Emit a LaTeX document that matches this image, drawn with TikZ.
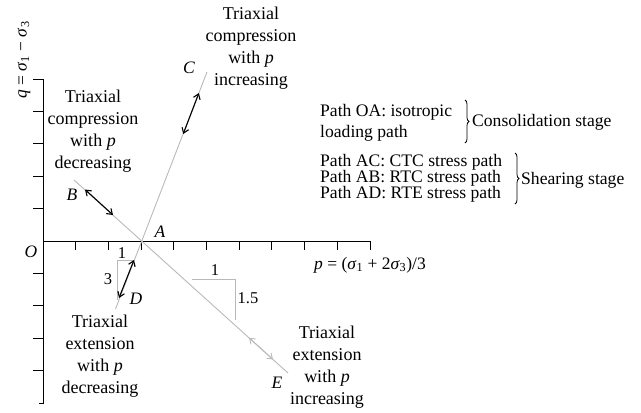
\documentclass[tikz,border=0pt]{standalone}
\usepackage{fontspec}
\setmainfont{Liberation Serif}
\usetikzlibrary{arrows.meta,decorations.pathreplacing}
\definecolor{lgray}{RGB}{185,185,185}
\begin{document}
\begin{tikzpicture}[x=1pt,y=-1pt,
  lbl/.style={font=\fontsize{17.5}{21}\selectfont\itshape, inner sep=0pt},
  num/.style={font=\fontsize{16.5}{20}\selectfont, inner sep=0pt},
  txt/.style={font=\fontsize{18}{22}\selectfont, align=center, inner sep=0pt},
  ptxt/.style={font=\fontsize{17.6}{20}\selectfont, inner sep=0pt, anchor=base west},
  axis/.style={line width=0.9pt, black},
  path/.style={line width=0.9pt, lgray},
  arr/.style={line width=1.1pt, black, {Straight Barb[length=5pt,width=7pt]}-{Straight Barb[length=5pt,width=7pt]}},
  garr/.style={line width=0.9pt, lgray, {Straight Barb[length=5pt,width=7pt]}-{Straight Barb[length=5pt,width=7pt]}},
  brc/.style={decorate, decoration={brace, amplitude=4pt}, line width=0.8pt}
]
\useasboundingbox (0,0) rectangle (641,413);
% key points
\coordinate (O) at (43,241);
\coordinate (A) at (142,241);
\coordinate (B) at (74,180);
\coordinate (C) at (207,72);
\coordinate (D) at (115.5,309);
\coordinate (E) at (288,373);
\coordinate (ytop) at (43,79);
\coordinate (ybot) at (43,403);
\coordinate (xend) at (370,241);
% axes
\draw[axis] (33,79) -- (ytop) -- (ybot) -- (39,403);
\draw[axis] (O) -- (xend);
\foreach \k in {1,2,3,4,6,7,8,9} \draw[axis] (33,{79+32.4*\k}) -- (43,{79+32.4*\k});
\foreach \k in {1,...,10} \draw[axis] ({43+32.7*\k},241) -- ({43+32.7*\k},250);
% stress paths
\draw[path] (D) -- (C);
\draw[path] (B) -- (E);
% slope triangles
\draw[path] (134,260) -- (117,260) -- (117,300);
\draw[path] (192,279) -- (235,279) -- (235,320);
% arrows
\coordinate (c1) at (183.2,134); \coordinate (c2) at (198.9,93);
\coordinate (d1) at (134,260); \coordinate (d2) at (119,298);
\coordinate (b1) at (85,189.5); \coordinate (b2) at (113,215);
\coordinate (e1) at (249,337.7); \coordinate (e2) at (273,359.5);
\draw[arr] (c1) -- (c2);
\draw[arr] (d1) -- (d2);
\draw[arr] (b1) -- (b2);
\draw[garr] (e1) -- (e2);
% point labels
\node[lbl] (lO) at (31,252) {O};
\node[lbl] (lA) at (160,232) {A};
\node[lbl] (lB) at (72,195) {B};
\node[lbl] (lC) at (189,68) {C};
\node[lbl] (lD) at (136,299) {D};
\node[lbl] (lE) at (277,383) {E};
% slope numbers
\node[num] (n1) at (122,253) {1};
\node[num] (n3) at (108,279) {3};
\node[num] (n4) at (215,270) {1};
\node[num] (n5) at (248,298) {1.5};
% axis labels
\node[font=\fontsize{17.5}{21}\selectfont, inner sep=0pt, rotate=90] (qlab) at (24,60) {\textit{q} = \textit{σ}\textsubscript{1} − \textit{σ}\textsubscript{3}};
\node[font=\fontsize{17.5}{21}\selectfont, inner sep=0pt] (plab) at (370,265) {\textit{p} = (\textit{σ}\textsubscript{1} + 2\textit{σ}\textsubscript{3})/3};
% descriptive texts
\node[txt] (tC) at (251,48) {Triaxial\\compression\\with \textit{p}\\increasing};
\node[txt] (tB) at (93,131) {Triaxial\\compression\\with \textit{p}\\decreasing};
\node[txt] (tD) at (100,356) {Triaxial\\extension\\with \textit{p}\\decreasing};
\node[txt] (tE) at (327,367) {Triaxial\\extension\\with \textit{p}\\increasing};
% legend
\node[ptxt] (p1) at (320,116) {Path OA: isotropic};
\node[ptxt] (p2) at (320,137) {loading path};
\node[ptxt] (p3) at (320,166) {Path AC: CTC stress path};
\node[ptxt] (p4) at (320,182) {Path AB: RTC stress path};
\node[ptxt] (p5) at (320,198) {Path AD: RTE stress path};
\draw[brc] (465,100) -- (465,143);
\draw[brc] (515,153) -- (515,204);
\node[ptxt] (s1) at (472,126) {Consolidation stage};
\node[ptxt] (s2) at (521,184) {Shearing stage};
\end{tikzpicture}
\end{document}
